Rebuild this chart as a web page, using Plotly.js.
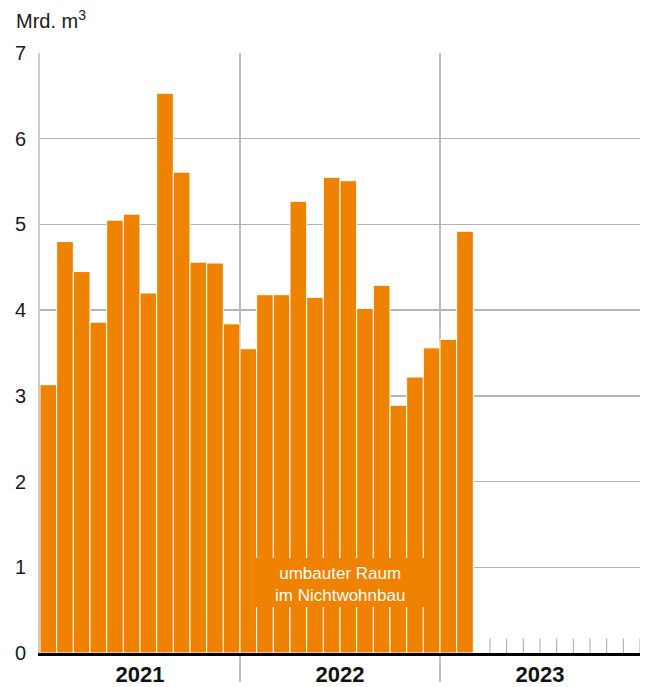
<!DOCTYPE html>
<html>
<head>
<meta charset="utf-8">
<script src="https://cdn.plot.ly/plotly-3.0.1.min.js"></script>
<style>html,body{margin:0;padding:0;background:#fff;}#chart{width:650px;height:687px;}</style>
</head>
<body>
<div id="chart"></div>
<script>
// Data
const years = ['2021', '2022', '2023'];
const monthsPerYear = 12;
// Monthly values, Mrd. m³ (Jan 2021 – Feb 2023)
const values = [
  3.13, 4.80, 4.45, 3.86, 5.05, 5.12, 4.20, 6.53, 5.61, 4.56, 4.55, 3.84,
  3.55, 4.18, 4.18, 5.27, 4.15, 5.55, 5.51, 4.02, 4.29, 2.89, 3.22, 3.56,
  3.66, 4.92
];
const yTicks = [0, 1, 2, 3, 4, 5, 6, 7];
const unitLabel = 'Mrd. m<sup>3</sup>';
const seriesLabel = 'umbauter Raum<br>im Nichtwohnbau';

const nMonths = years.length * monthsPerYear;
const xIdx = values.map((v, i) => i);
const orange = '#ef8200';
const grey = '#a9a9a9';

const shapes = [];
// year separators
for (let k = 1; k < years.length; k++) {
  const xb = k * monthsPerYear - 0.5;
  shapes.push({type: 'line', xref: 'x', yref: 'paper', x0: xb, x1: xb, y0: -0.048, y1: 1,
    line: {color: grey, width: 1.5}, layer: 'below'});
}
// tick marks for months without data
for (let i = values.length; i < nMonths; i++) {
  shapes.push({type: 'line', xref: 'x', yref: 'y', x0: i + 0.5, x1: i + 0.5, y0: 0, y1: 0.17,
    line: {color: grey, width: 1}, layer: 'below'});
}
// label box
shapes.push({type: 'rect', xref: 'x', yref: 'y', x0: 11.8, x1: 23.2, y0: 0.537, y1: 1.108,
  fillcolor: orange, line: {width: 0}, layer: 'above'});

const trace = {
  type: 'bar',
  x: xIdx,
  y: values,
  width: 1,
  marker: {color: orange, line: {color: '#ffffff', width: 1}},
  hoverinfo: 'y',
  showlegend: false
};

const layout = {
  width: 650, height: 687,
  margin: {l: 40, r: 10, t: 53, b: 34, pad: 0},
  paper_bgcolor: '#ffffff',
  plot_bgcolor: 'rgba(0,0,0,0)',
  font: {family: 'Liberation Sans, Arial, sans-serif', color: '#1a1a1a'},
  title: {text: unitLabel, x: 16/650, xanchor: 'left', xref: 'container',
    y: 1 - 21/687, yanchor: 'middle', yref: 'container',
    font: {size: 20, color: '#1a1a1a'}},
  bargap: 0,
  xaxis: {
    range: [-0.5, nMonths - 0.5],
    tickvals: years.map((y, k) => k * monthsPerYear + (monthsPerYear - 1) / 2),
    ticktext: years.map(y => '<b>' + y + '</b>'),
    ticks: '', showgrid: false, zeroline: false,
    showline: true, linecolor: '#000000', linewidth: 2.5,
    tickfont: {size: 22, color: '#111111'},
    ticklabelstandoff: 0,
    fixedrange: true
  },
  yaxis: {
    range: [0, 7],
    tickvals: yTicks,
    ticktext: yTicks.map(String),
    ticks: '', showgrid: true, gridcolor: '#b4b4b4', gridwidth: 1.5,
    zeroline: false, showline: true, linecolor: '#cccccc', linewidth: 2,
    tickfont: {size: 20, color: '#1a1a1a'},
    ticklabelstandoff: 8,
    fixedrange: true
  },
  shapes: shapes,
  annotations: [{
    text: seriesLabel, xref: 'x', yref: 'y', x: 17.5, y: 0.80,
    showarrow: false, align: 'center',
    font: {size: 17, color: '#ffffff'}
  }]
};

Plotly.newPlot('chart', [trace], layout, {displayModeBar: false, staticPlot: true});
</script>
</body>
</html>
